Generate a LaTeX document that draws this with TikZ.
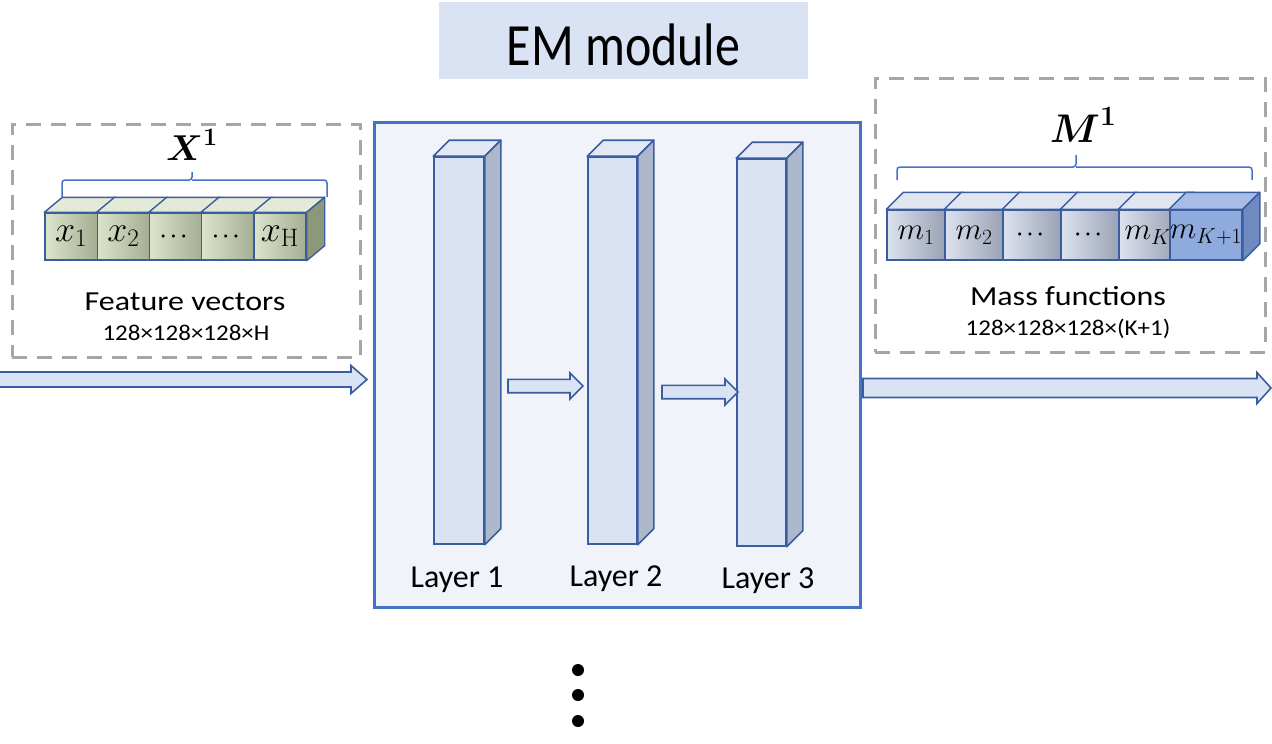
\RequirePackage{fix-cm}
\documentclass[tikz,border=0pt]{standalone}
\usepackage{amsmath}
\usepackage{graphicx}
\usepackage[no-math]{fontspec}
\setmainfont{Carlito}
\usetikzlibrary{calc}
\definecolor{emblue}{HTML}{4472C4}
\definecolor{ldark}{HTML}{3A5DA0}
\definecolor{emfill}{HTML}{DAE3F3}
\definecolor{mainfill}{HTML}{F0F4FA}
\definecolor{lfront}{HTML}{DAE3F3}
\definecolor{lside}{HTML}{ADB9CA}
\definecolor{ltop}{HTML}{E2E9F5}
\definecolor{dgray}{HTML}{A6A6A6}
\definecolor{gA}{HTML}{DCE5CC}
\definecolor{gB}{HTML}{A4AE91}
\definecolor{gtop}{HTML}{E3EAD7}
\definecolor{gside}{HTML}{8D9879}
\definecolor{bA}{HTML}{DDE2EE}
\definecolor{bB}{HTML}{99A2B5}
\definecolor{btop}{HTML}{E0E5F0}
\definecolor{lastf}{HTML}{8FAADC}
\definecolor{lasttop}{HTML}{A8BDE5}
\definecolor{lastside}{HTML}{6F8AC0}
\newcommand{\blkarrow}[5]{%
  \draw[blk] let \p1=(#1), \p2=(#2) in
  (\x1,\y1+#3) -- (\x2-#5,\y1+#3) -- (\x2-#5,\y1+#4) -- (\x2,\y1)
  -- (\x2-#5,\y1-#4) -- (\x2-#5,\y1-#3) -- (\x1,\y1-#3) -- cycle;}
\newcommand{\cubedots}{{\fontsize{20}{20}\selectfont$\boldsymbol{\cdots}$}}
\tikzset{
  mainbox/.style={draw=emblue, line width=3pt, fill=mainfill, inner sep=0pt},
  titlebox/.style={fill=emfill, inner sep=0pt, minimum width=369pt, minimum height=77pt},
  dashbox/.style={draw=dgray, line width=3pt, dash pattern=on 15pt off 10pt, inner sep=0pt},
  layerfront/.style={draw=ldark, line width=1.6pt, fill=lfront, inner sep=0pt, minimum width=50pt, minimum height=387pt},
  layerside/.style={draw=ldark, line width=1.6pt, fill=lside, line join=round},
  layertop/.style={draw=ldark, line width=1.6pt, fill=ltop, line join=round},
  blk/.style={draw=ldark, line width=1.6pt, fill=lfront, line join=miter},
  gcube/.style={draw=ldark, line width=1.4pt, left color=gA, right color=gB, minimum width=52.2pt, minimum height=47pt, inner sep=0pt, font=\fontsize{36}{42}\selectfont},
  gtopf/.style={draw=ldark, line width=1.4pt, fill=gtop, line join=round},
  gsidef/.style={draw=ldark, line width=1.4pt, fill=gside, line join=round},
  bcube/.style={draw=ldark, line width=1.4pt, left color=bA, right color=bB, minimum width=58pt, minimum height=50pt, inner sep=0pt, font=\fontsize{31}{36}\selectfont},
  btopf/.style={draw=ldark, line width=1.4pt, fill=btop, line join=round},
  brace/.style={draw=emblue, line width=1.5pt, rounded corners=3pt},
  lbl/.style={inner sep=0pt, anchor=base},
  dotn/.style={circle, fill=black, minimum size=12pt, inner sep=0pt}
}
\begin{document}
\begin{tikzpicture}[x=1pt,y=-1pt]
\useasboundingbox (0,0) rectangle (1272,744);

% title
\node[titlebox] (title) at (623.5,40.5) {};
\node[lbl, font=\fontsize{50}{60}\selectfont] (titletxt) at (623.5,65) {\scalebox{1}[1.2]{EM module}};

% dashed boxes
\node[dashbox, minimum width=348pt, minimum height=233pt] (inbox) at (186,240.5) {};
\node[dashbox, minimum width=390pt, minimum height=274pt] (outbox) at (1070,215) {};

% main box
\node[mainbox, minimum width=486pt, minimum height=485pt] (em) at (617,364.5) {};

% input / output arrows
\coordinate (ins) at (-3,379.5);
\coordinate (ine) at (367,379.5);
\blkarrow{ins}{ine}{7.5pt}{14pt}{16pt}
\coordinate (outs) at (863,388);
\coordinate (oute) at (1271,388);
\blkarrow{outs}{oute}{9.5pt}{15.5pt}{14pt}

% layers
\node[layerfront] (l1) at (459,350.5) {};
\node[layerfront, minimum width=49pt] (l2) at (612.5,350.5) {};
\node[layerfront, minimum width=49pt] (l3) at (761.5,352.5) {};
\foreach \L in {l1,l2,l3}{
  \draw[layertop] (\L.north west) -- ++(16,-16) -- ($(\L.north east)+(16,-16)$) -- (\L.north east) -- cycle;
  \draw[layerside] (\L.north east) -- ++(16,-16) -- ($(\L.south east)+(16,-16)$) -- (\L.south east) -- cycle;
}
\node[lbl, font=\fontsize{32}{38}\selectfont] (t1) at (457,587) {Layer 1};
\node[lbl, font=\fontsize{32}{38}\selectfont] (t2) at (616,586) {Layer 2};
\node[lbl, font=\fontsize{32}{38}\selectfont] (t3) at (768,588) {Layer 3};

% inner arrows
\coordinate (a1s) at (508,386);
\coordinate (a1e) at (583,386);
\blkarrow{a1s}{a1e}{6.7pt}{13pt}{13pt}
\coordinate (a2s) at (662,392);
\coordinate (a2e) at (738,392);
\blkarrow{a2s}{a2e}{6.7pt}{13pt}{13pt}

% green cubes (feature vectors)
\node[gcube] (g1) at (71.1,236.5) {$x_1$};
\node[gcube] (g2) at (123.3,236.5) {$x_2$};
\node[gcube] (g3) at (175.5,236.5) {\cubedots};
\node[gcube] (g4) at (227.7,236.5) {\cubedots};
\node[gcube] (g5) at (279.9,236.5) {$x_{\mathrm{H}}$};
\foreach \g in {g1,g2,g3,g4,g5}{
  \draw[gtopf] (\g.north west) -- ++(18,-15) -- ($(\g.north east)+(18,-15)$) -- (\g.north east) -- cycle;
}
\draw[gsidef] (g5.north east) -- ++(18,-15) -- ($(g5.south east)+(18,-15)$) -- (g5.south east) -- cycle;

% brace X
\coordinate (xbl) at (62,197);
\coordinate (xbr) at (327,197);
\coordinate (xbt) at (192,172);
\draw[brace] (xbl) |- (xbt |- 0,180) -- (xbt);
\draw[brace] (xbt |- 0,180) -| (xbr);
\node[lbl, font=\fontsize{36}{42}\selectfont] (xlab) at (192,160) {$\boldsymbol{X}^{\mathbf{1}}$};
\node[lbl, font=\fontsize{32}{38}\selectfont] (fv) at (185,310) {\scalebox{1}[0.86]{Feature vectors}};
\node[lbl, font=\fontsize{25}{30}\selectfont] (fvd) at (186,340) {\scalebox{1}[0.9]{128×128×128×H}};

% blue cubes (mass functions)
\node[bcube] (m1) at (916,235) {$m_1$};
\node[bcube] (m2) at (974,235) {$m_2$};
\node[bcube] (m3) at (1032,235) {\cubedots};
\node[bcube] (m4) at (1090,235) {\cubedots};
\node[bcube] (m5) at (1148,235) {$m_K$};
\node[bcube, left color=lastf, right color=lastf] (m6) at (1206,235) {$m_{K+1}$};
\foreach \m in {m1,m2,m3,m4,m5}{
  \draw[btopf] (\m.north west) -- ++(17,-17) -- ($(\m.north east)+(17,-17)$) -- (\m.north east) -- cycle;
}
\draw[btopf, fill=lasttop] (m6.north west) -- ++(17,-17) -- ($(m6.north east)+(17,-17)$) -- (m6.north east) -- cycle;
\draw[btopf, fill=lastside] (m6.north east) -- ++(17,-17) -- ($(m6.south east)+(17,-17)$) -- (m6.south east) -- cycle;

% brace M
\coordinate (mbl) at (897,180);
\coordinate (mbr) at (1252,180);
\coordinate (mbt) at (1076,155);
\draw[brace] (mbl) |- (mbt |- 0,167) -- (mbt);
\draw[brace] (mbt |- 0,167) -| (mbr);
\node[lbl, font=\fontsize{40}{46}\selectfont] (mlab) at (1083,142) {$\boldsymbol{M}^{\mathbf{1}}$};
\node[lbl, font=\fontsize{32}{38}\selectfont] (mf) at (1068,305) {\scalebox{1}[0.86]{Mass functions}};
\node[lbl, font=\fontsize{25}{30}\selectfont] (mfd) at (1068,335) {\scalebox{1}[0.9]{128×128×128×(K+1)}};

% vertical dots
\node[dotn] (d1) at (578,670) {};
\node[dotn] (d2) at (578,695) {};
\node[dotn] (d3) at (578,721) {};
\end{tikzpicture}
\end{document}
